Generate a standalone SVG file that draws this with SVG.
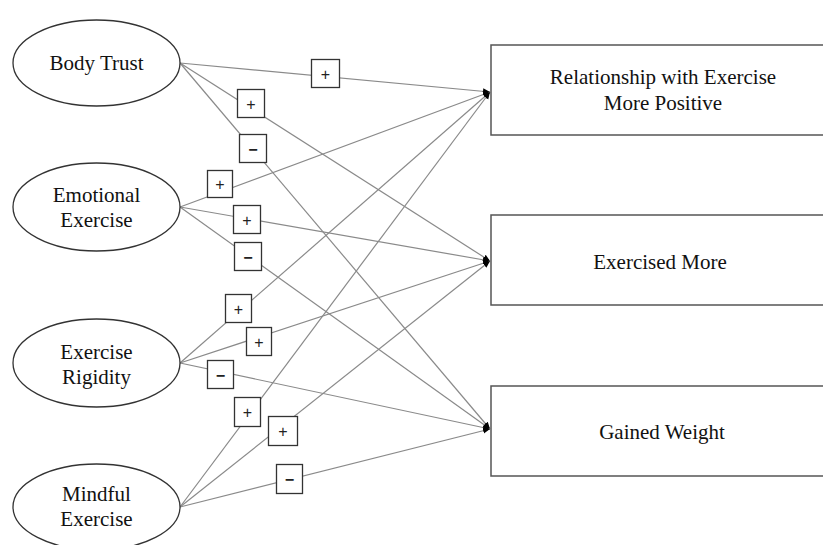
<svg xmlns="http://www.w3.org/2000/svg" width="823" height="545" viewBox="0 0 823 545">
<style>
.ell{fill:#fff;stroke:#333;stroke-width:1.3}
.box{fill:#fff;stroke:#555;stroke-width:1.5}
.t{font-family:"Liberation Serif","Times New Roman",serif;font-size:21px;fill:#111;text-anchor:middle}
.c{stroke:#8a8a8a;stroke-width:1.2;fill:none;marker-end:url(#ah)}
.lb rect{fill:#fff;stroke:#333;stroke-width:1.3}
.lb text{font-family:"Liberation Sans",Arial,sans-serif;font-size:16px;fill:#222;text-anchor:middle}
.lb text.m{font-weight:bold}
</style>
<defs>
<marker id="ah" markerUnits="userSpaceOnUse" markerWidth="8" markerHeight="8" refX="7" refY="4" orient="auto">
<path d="M0,1 L7,4 L0,7 Z" fill="#000"/>
</marker>
</defs>
<rect width="823" height="545" fill="#fff"/>
<g id="connectors">
<line class="c" x1="180" y1="63" x2="490" y2="92"/>
<line class="c" x1="180" y1="63" x2="490" y2="261"/>
<line class="c" x1="180" y1="63" x2="490" y2="429"/>
<line class="c" x1="180" y1="207" x2="490" y2="92"/>
<line class="c" x1="180" y1="207" x2="490" y2="261"/>
<line class="c" x1="180" y1="207" x2="490" y2="429"/>
<line class="c" x1="180" y1="363" x2="490" y2="92"/>
<line class="c" x1="180" y1="363" x2="490" y2="261"/>
<line class="c" x1="180" y1="363" x2="490" y2="429"/>
<line class="c" x1="180" y1="507" x2="490" y2="92"/>
<line class="c" x1="180" y1="507" x2="490" y2="261"/>
<line class="c" x1="180" y1="507" x2="490" y2="429"/>
</g>
<g id="labels">
<g class="lb"><rect x="311.5" y="59.5" width="28" height="28"/><text x="325.5" y="79.5">+</text></g>
<g class="lb"><rect x="237.5" y="89.5" width="27" height="28"/><text x="251" y="109.5">+</text></g>
<g class="lb"><rect x="239.5" y="134.5" width="27" height="28"/><text class="m" x="253" y="154.5">−</text></g>
<g class="lb"><rect x="207.5" y="170.5" width="25" height="27"/><text x="220" y="190">+</text></g>
<g class="lb"><rect x="233.5" y="205.5" width="27" height="28"/><text x="247" y="225.5">+</text></g>
<g class="lb"><rect x="234.5" y="242.5" width="27" height="28"/><text class="m" x="248" y="262.5">−</text></g>
<g class="lb"><rect x="225.5" y="294.5" width="26" height="28"/><text x="238.5" y="314.5">+</text></g>
<g class="lb"><rect x="246.5" y="327.5" width="25" height="28"/><text x="259" y="347.5">+</text></g>
<g class="lb"><rect x="207.5" y="360.5" width="26" height="28"/><text class="m" x="220.5" y="380.5">−</text></g>
<g class="lb"><rect x="234.5" y="397.5" width="26" height="29"/><text x="247.5" y="418">+</text></g>
<g class="lb"><rect x="268.5" y="416.5" width="29" height="29"/><text x="283" y="437">+</text></g>
<g class="lb"><rect x="276.5" y="464.5" width="26" height="29"/><text class="m" x="289.5" y="485">−</text></g>
</g>
<g id="body-trust">
<ellipse class="ell" cx="96.5" cy="63" rx="83.5" ry="43"/>
<text class="t" x="96.5" y="70">Body Trust</text>
</g>
<g id="emotional-exercise">
<ellipse class="ell" cx="96.5" cy="207" rx="83.5" ry="44"/>
<text class="t" x="96.5" y="202">Emotional</text>
<text class="t" x="96.5" y="227">Exercise</text>
</g>
<g id="exercise-rigidity">
<ellipse class="ell" cx="96.5" cy="363" rx="83.5" ry="44"/>
<text class="t" x="96.5" y="359">Exercise</text>
<text class="t" x="96.5" y="384">Rigidity</text>
</g>
<g id="mindful-exercise">
<ellipse class="ell" cx="96.5" cy="507" rx="83.5" ry="43"/>
<text class="t" x="96.5" y="501">Mindful</text>
<text class="t" x="96.5" y="526">Exercise</text>
</g>
<g id="relationship">
<rect class="box" x="491" y="45" width="340" height="90"/>
<text class="t" x="663" y="84">Relationship with Exercise</text>
<text class="t" x="663" y="110">More Positive</text>
</g>
<g id="exercised-more">
<rect class="box" x="491" y="215" width="340" height="90"/>
<text class="t" x="660" y="269">Exercised More</text>
</g>
<g id="gained-weight">
<rect class="box" x="491" y="386" width="340" height="90"/>
<text class="t" x="662" y="439">Gained Weight</text>
</g>
</svg>
